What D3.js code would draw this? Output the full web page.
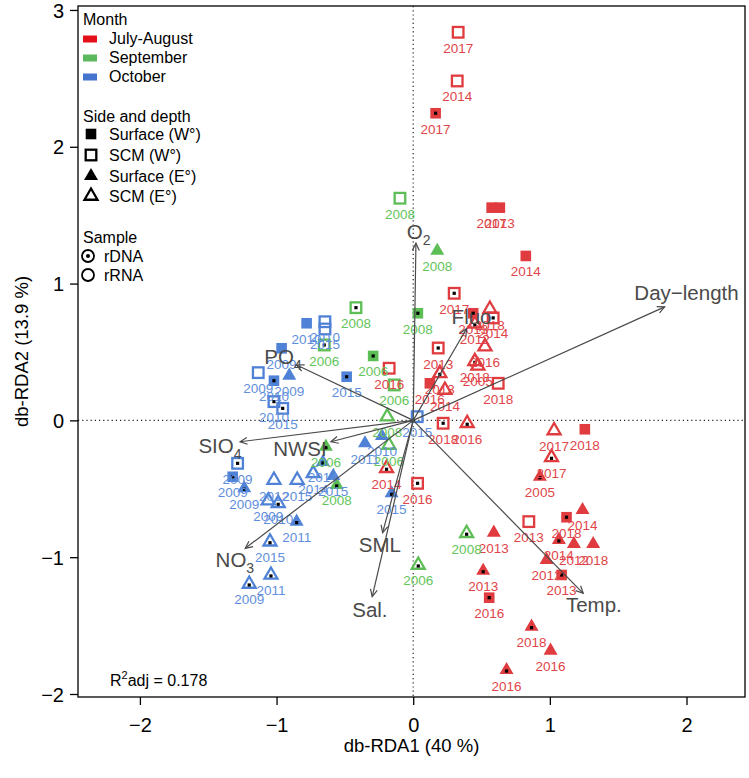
<!DOCTYPE html>
<html><head><meta charset="utf-8">
<script src="https://cdn.jsdelivr.net/npm/d3@7"></script>
<style>body{margin:0;background:#fff}svg{display:block;font-family:"Liberation Sans",Arial,sans-serif}</style>
</head><body>
<svg id="c" width="749" height="778"></svg>
<script>
// ---- data ----
// month: J = July-August, S = September, O = October
// type: SW = Surface (W°), CW = SCM (W°), SE = Surface (E°), CE = SCM (E°)
// sample: D = rDNA, R = rRNA
const redX = [0.329,0.322,0.164,0.574,0.634,0.824,0.300,0.439,0.561,0.585,0.451,0.525,0.183,0.451,0.473,0.195,0.122,0.232,0.622,0.219,0.395,1.031,1.256,1.012,0.927,-0.195,0.032,-0.176,0.846,1.122,1.239,1.066,1.176,1.317,0.976,1.086,0.590,0.512,0.556,0.866,1.005,0.683];
const redY = [2.837,2.481,2.245,1.555,1.555,1.202,0.929,0.783,0.814,0.749,0.705,0.539,0.529,0.431,0.398,0.344,0.271,0.222,0.271,-0.021,-0.021,-0.074,-0.065,-0.270,-0.412,-0.350,-0.460,0.381,-0.740,-0.708,-0.655,-0.874,-0.904,-0.904,-1.020,-1.130,-0.821,-1.099,-1.296,-1.508,-1.683,-1.825];
const redType = ["CW","CW","SW","SW","SW","SW","CW","SW","CE","CW","CE","CE","CW","CE","CE","CE","SW","CE","CW","CW","CE","CE","SW","CE","SE","CE","CW","CW","CW","SW","SE","SE","SE","SE","SE","SW","SE","SE","SW","SE","SE","SE"];
const redSample = ["R","R","D","R","R","R","D","D","R","D","D","R","D","D","R","D","R","R","R","D","D","R","R","D","D","D","D","R","R","D","R","D","R","R","R","D","R","D","D","D","R","D"];
const redYear = ["2017","2014","2017","2017","2013","2014","2017","2013","2018","2014","2012","2016","2013","2018","2005","2013","2016","2014","2018","2018","2016","2017","2018","2017","2005","2014","2016","2016","2013","2018","2014","2014","2012","2018","2012","2013","2013","2013","2016","2018","2016","2016"];

const greenX = [-0.097,0.176,0.034,-0.419,-0.293,-0.651,-0.139,-0.190,-0.178,-0.639,-0.560,0.391,0.037];
const greenY = [1.624,1.240,0.783,0.824,0.471,0.551,0.259,0.027,-0.180,-0.192,-0.472,-0.825,-1.057];
const greenType = ["CW","SE","SW","CW","SW","CW","CW","CE","CE","SE","SE","CE","CE"];
const greenSample = ["R","R","D","D","D","D","R","R","R","D","D","D","D"];
const greenYear = ["2008","2008","2008","2008","2006","2006","2006","2008","2006","2006","2008","2008","2006"];

const blueX = [-0.780,-0.646,-0.646,-0.963,-1.134,-1.019,-0.907,-1.019,-0.955,-0.487,0.029,-0.353,-0.229,-0.661,-1.285,-1.321,-1.236,-1.019,-0.849,-0.732,-0.585,-1.061,-0.988,-0.853,-1.048,-1.041,-1.200,-0.158];
const blueY = [0.710,0.721,0.668,0.527,0.349,0.290,0.327,0.137,0.088,0.319,0.027,-0.167,-0.114,-0.304,-0.314,-0.412,-0.496,-0.436,-0.436,-0.387,-0.406,-0.587,-0.606,-0.740,-0.887,-1.130,-1.196,-0.533];
const blueType = ["SW","CW","CW","SW","CW","SW","SE","CW","CW","SW","CW","SE","SE","SE","CW","SW","SE","CE","CE","CE","SE","CE","CE","SE","CE","CE","CE","SE"];
const blueSample = ["R","R","R","R","R","D","R","D","D","D","R","R","R","D","D","D","D","R","R","R","R","R","D","D","D","D","D","D"];
const blueYear = ["2010","2010","2015","2009","2009","2010","2009","2010","2015","2015","2015","2011","2010","2014","2009","2009","2009","2012","2015","2014","2015","2009","2010","2011","2015","2011","2009","2015"];

// environmental vectors (tips) and label positions
const envNames = ["O2","Day−length","Fluo","PO4","SIO4","NWSI","NO3","SML","Sal.","Temp."];
const envX = [0.020,1.840,0.390,-0.853,-1.267,-0.602,-1.229,-0.224,-0.300,1.244];
const envY = [1.295,0.830,0.670,0.405,-0.156,-0.156,-0.935,-0.821,-1.289,-1.264];
const envLabX = [0.040,2.000,0.427,-0.953,-1.414,-0.829,-1.305,-0.244,-0.317,1.322];
const envLabY = [1.377,0.929,0.754,0.464,-0.187,-0.209,-1.020,-0.911,-1.386,-1.349];

const xTicks = [-2,-1,0,1,2];
const yTicks = [-2,-1,0,1,2,3];
const monthLabels = ["July-August","September","October"];
const sideLabels = ["Surface (W°)","SCM (W°)","Surface (E°)","SCM (E°)"];
const sampleLabels = ["rDNA","rRNA"];

// ---- styling ----
const col = {J:"#E03B3F", S:"#5DBE55", O:"#4F82D6"};
const labCol = {J:"#DF4549", S:"#63C55A", O:"#5F8FDC"};
const legCol = ["#E3101A","#5CB85C","#4474CD"];
const grey = "#4a4a4a";

const svg = d3.select("#c");
const L=78, R=745, T=6, B=697;
const x = d3.scaleLinear().domain([-2.453, 2.428]).range([L, R]);
const y = d3.scaleLinear().domain([-2.022, 3.029]).range([B, T]);

// reference lines
svg.append("line").attr("x1",x(0)).attr("x2",x(0)).attr("y1",T).attr("y2",B)
  .attr("stroke","#222").attr("stroke-width",1.2).attr("stroke-dasharray","1.2,3");
svg.append("line").attr("x1",L).attr("x2",R).attr("y1",y(0)).attr("y2",y(0))
  .attr("stroke","#222").attr("stroke-width",1.2).attr("stroke-dasharray","1.2,3");

// points
function build(X,Y,T_,S,Yr,m){return X.map((v,i)=>({x:v,y:Y[i],t:T_[i],s:S[i],yr:Yr[i],m}));}
const pts = [].concat(build(redX,redY,redType,redSample,redYear,"J"),
                      build(greenX,greenY,greenType,greenSample,greenYear,"S"),
                      build(blueX,blueY,blueType,blueSample,blueYear,"O"));

function triPath(s){const h=s*0.866;return `M0,${-2*h/3}L${s/2},${h/3}L${-s/2},${h/3}Z`;}
function drawSymbol(g,t,c){
  if(t==="SW"){g.append("rect").attr("x",-5.3).attr("y",-5.3).attr("width",10.6).attr("height",10.6).attr("fill",c);}
  else if(t==="CW"){g.append("rect").attr("x",-5.3).attr("y",-5.3).attr("width",10.6).attr("height",10.6).attr("fill","none").attr("stroke",c).attr("stroke-width",2.3);}
  else if(t==="SE"){g.append("path").attr("d",triPath(14)).attr("fill",c);}
  else {g.append("path").attr("d",triPath(13)).attr("fill","none").attr("stroke",c).attr("stroke-width",2.3).attr("stroke-linejoin","miter");}
}
const gp = svg.append("g");
pts.forEach(p=>{
  const g = gp.append("g").attr("transform",`translate(${x(p.x)},${y(p.y)})`);
  drawSymbol(g,p.t,col[p.m]);
  if(p.s==="D"){const dy = (p.t==="SE"||p.t==="CE")?1:0; g.append("rect").attr("x",-1.6).attr("y",-1.6+dy).attr("width",3.2).attr("height",3.2).attr("fill","#000");}
});
const gl = svg.append("g").attr("font-size",13.5).attr("text-anchor","middle");
pts.forEach(p=>{
  gl.append("text").attr("x",x(p.x)).attr("y",y(p.y)+20.5).attr("fill",labCol[p.m]).text(p.yr);
});

// arrows
const ga = svg.append("g");
envNames.forEach((n,i)=>{
  const x0=x(0),y0=y(0),x1=x(envX[i]),y1=y(envY[i]);
  ga.append("line").attr("x1",x0).attr("y1",y0).attr("x2",x1).attr("y2",y1).attr("stroke",grey).attr("stroke-width",1.2);
  const a=Math.atan2(y1-y0,x1-x0), hl=8, ha=Math.PI/7;
  ga.append("path").attr("d",`M${x1-hl*Math.cos(a-ha)},${y1-hl*Math.sin(a-ha)}L${x1},${y1}L${x1-hl*Math.cos(a+ha)},${y1-hl*Math.sin(a+ha)}`)
    .attr("fill","none").attr("stroke",grey).attr("stroke-width",1.2);
  const t = ga.append("text").attr("x",x(envLabX[i])).attr("y",y(envLabY[i])+7).attr("text-anchor","middle")
    .attr("font-size",20.5).attr("fill",grey);
  const m = n.match(/^([A-Z]+)(\d)$/);
  if(m){t.append("tspan").text(m[1]);t.append("tspan").attr("font-size",14).attr("dy",6).text(m[2]);}
  else t.text(n);
});

// box and axes
svg.append("rect").attr("x",L).attr("y",T).attr("width",R-L).attr("height",B-T).attr("fill","none").attr("stroke","#000").attr("stroke-width",1.3);
const xa = svg.append("g").attr("transform",`translate(0,${B})`)
  .call(d3.axisBottom(x).tickValues(xTicks).tickSize(8).tickPadding(13).tickFormat(d=>d<0?"−"+Math.abs(d):d));
const ya = svg.append("g").attr("transform",`translate(${L},0)`)
  .call(d3.axisLeft(y).tickValues(yTicks).tickSize(8).tickPadding(6).tickFormat(d=>d<0?"−"+Math.abs(d):d));
[xa,ya].forEach(a=>{a.select(".domain").remove();a.selectAll("line").attr("stroke","#000").attr("stroke-width",1.3);
  a.selectAll("text").attr("font-size",20).attr("fill","#000").attr("font-family","Liberation Sans, Arial, sans-serif");});
ya.selectAll(".tick text").attr("dy","0.36em");

svg.append("text").attr("x",(L+R)/2).attr("y",752).attr("text-anchor","middle").attr("font-size",18.5).text("db-RDA1 (40 %)");
svg.append("text").attr("transform",`translate(28,${(T+B)/2}) rotate(-90)`).attr("text-anchor","middle").attr("font-size",18.5).text("db-RDA2 (13.9 %)");

// R2 adj
const r2 = svg.append("text").attr("x",110).attr("y",686).attr("font-size",16);
r2.append("tspan").text("R");r2.append("tspan").attr("font-size",11).attr("dy",-7).text("2");
r2.append("tspan").attr("dy",7).text("adj = 0.178");

// legend
const lg = svg.append("g").attr("font-size",16);
lg.append("text").attr("x",83).attr("y",25).text("Month");
monthLabels.forEach((m,i)=>{
  lg.append("rect").attr("x",83).attr("y",35.5+i*19).attr("width",14).attr("height",7).attr("fill",legCol[i]);
  lg.append("text").attr("x",109).attr("y",44+i*19).text(m);
});
lg.append("text").attr("x",83).attr("y",122).text("Side and depth");
const sideTypes=["SW","CW","SE","CE"];
const sideY=[134,155,176,196];
sideLabels.forEach((s,i)=>{
  const g=lg.append("g").attr("transform",`translate(91,${sideY[i]})`);
  drawSymbol(g,sideTypes[i],"#000");
  lg.append("text").attr("x",109).attr("y",sideY[i]+6).text(s);
});
lg.append("text").attr("x",83).attr("y",243).text("Sample");
sampleLabels.forEach((s,i)=>{
  const cy=256+i*19;
  lg.append("circle").attr("cx",88).attr("cy",cy).attr("r",6).attr("fill","none").attr("stroke","#000").attr("stroke-width",1.8);
  if(i===0) lg.append("circle").attr("cx",88).attr("cy",cy).attr("r",2).attr("fill","#000");
  lg.append("text").attr("x",104).attr("y",cy+6).text(s);
});
</script>
</body></html>
